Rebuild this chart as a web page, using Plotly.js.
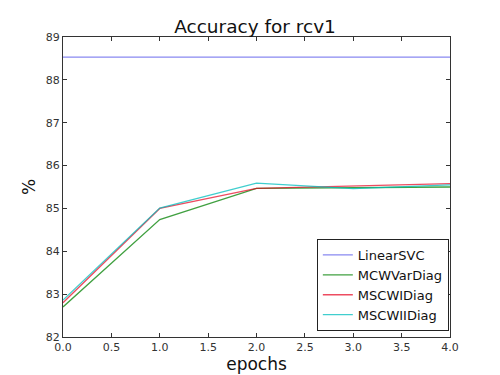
<!DOCTYPE html>
<html>
<head>
<meta charset="utf-8">
<script src="https://cdn.plot.ly/plotly-3.0.1.min.js"></script>
<style>html,body{margin:0;padding:0;background:#fff;}#chart{width:500px;height:375px;}</style>
</head>
<body>
<div id="chart"></div>
<script>
const epochs = [0, 1, 2, 3, 4];
const linearSVC = [88.53, 88.53, 88.53, 88.53, 88.53];
const mcwVarDiag = [82.70, 84.74, 85.47, 85.49, 85.50];
const mscwiDiag = [82.80, 85.00, 85.47, 85.53, 85.58];
const mscwiiDiag = [82.86, 85.01, 85.59, 85.46, 85.55];
const seriesNames = ["LinearSVC", "MCWVarDiag", "MSCWIDiag", "MSCWIIDiag"];
const xTicks = [0, 0.5, 1, 1.5, 2, 2.5, 3, 3.5, 4];
const yTicks = [82, 83, 84, 85, 86, 87, 88, 89];

const colors = ["rgba(40,40,230,0.55)", "rgba(0,128,0,0.75)", "rgba(230,0,30,0.7)", "rgba(0,190,190,0.75)"];
const series = [linearSVC, mcwVarDiag, mscwiDiag, mscwiiDiag];
const data = series.map((y, i) => ({
  x: epochs, y: y, name: seriesNames[i], type: "scatter", mode: "lines",
  line: {color: colors[i], width: 1.3}
}));

const font = {family: "DejaVu Sans, sans-serif", color: "#222"};
const layout = {
  width: 500, height: 375,
  margin: {l: 63, r: 50, t: 37, b: 38},
  paper_bgcolor: "#fff", plot_bgcolor: "#fff",
  font: font,
  title: {text: "Accuracy for rcv1", font: {size: 18.5, family: font.family, color: "#111"}, x: 0.51, xanchor: "center", y: 0.928, yanchor: "middle"},
  showlegend: true,
  legend: {x: 0.997, xanchor: "right", y: 0.02, yanchor: "bottom", bordercolor: "#222", borderwidth: 1, bgcolor: "#fff",
           font: {size: 13, family: font.family, color: "#111"}, tracegroupgap: 0},
  xaxis: {
    range: [0, 4], tickvals: xTicks, ticktext: xTicks.map(v => v.toFixed(1)),
    ticks: "inside", ticklen: 4, tickcolor: "#333", mirror: "ticks", showline: true, linecolor: "#333", linewidth: 1,
    showgrid: false, zeroline: false, tickfont: {size: 11, color: "#333"},
    title: {text: "epochs", font: {size: 17, color: "#111"}, standoff: 3}
  },
  yaxis: {
    range: [82, 89], tickvals: yTicks, ticktext: yTicks.map(String),
    ticks: "inside", ticklen: 4, tickcolor: "#333", mirror: "ticks", showline: true, linecolor: "#333", linewidth: 1,
    showgrid: false, zeroline: false, tickfont: {size: 11, color: "#333"},
    title: {text: "%", font: {size: 17, color: "#111"}, standoff: 5}
  }
};
Plotly.newPlot("chart", data, layout, {staticPlot: true, displayModeBar: false});
</script>
</body>
</html>
